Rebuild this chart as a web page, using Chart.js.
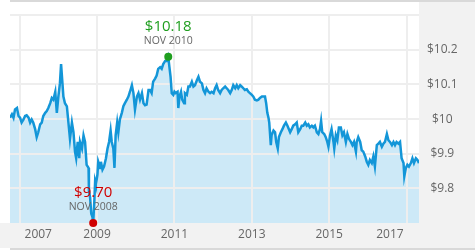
<!DOCTYPE html>
<html lang="en">
<head>
<meta charset="UTF-8">
<title>NAV history</title>
<script src="https://cdn.jsdelivr.net/npm/chart.js"></script>
<style>
  html, body { margin: 0; padding: 0; background: #fff; }
  canvas { display: block; }
</style>
</head>
<body>
<canvas id="navChart" width="475" height="250"></canvas>
<script>
// price history (decimal years / NAV in $)
const dates = [
  2006.75, 2006.80, 2006.84, 2006.88, 2006.93, 2006.97, 2007.01, 2007.05, 2007.10, 2007.14,
  2007.18, 2007.23, 2007.27, 2007.31, 2007.35, 2007.40, 2007.44, 2007.48, 2007.53, 2007.57,
  2007.61, 2007.66, 2007.70, 2007.74, 2007.79, 2007.83, 2007.87, 2007.92, 2007.96, 2008.00,
  2008.04, 2008.07, 2008.10, 2008.13, 2008.17, 2008.22, 2008.26, 2008.30, 2008.35, 2008.39,
  2008.43, 2008.46, 2008.50, 2008.54, 2008.56, 2008.61, 2008.65, 2008.69, 2008.73, 2008.78,
  2008.79, 2008.82, 2008.85, 2008.88, 2008.90, 2008.93, 2008.95, 2008.97, 2009.01, 2009.03,
  2009.08, 2009.10, 2009.14, 2009.18, 2009.23, 2009.27, 2009.31, 2009.35, 2009.38, 2009.42,
  2009.45, 2009.48, 2009.52, 2009.55, 2009.59, 2009.64, 2009.68, 2009.72, 2009.77, 2009.81,
  2009.85, 2009.90, 2009.94, 2009.98, 2010.03, 2010.07, 2010.11, 2010.16, 2010.20, 2010.24,
  2010.28, 2010.33, 2010.37, 2010.41, 2010.45, 2010.50, 2010.54, 2010.58, 2010.63, 2010.67,
  2010.71, 2010.76, 2010.80, 2010.84, 2010.87, 2010.90, 2010.93, 2010.97, 2011.00, 2011.03,
  2011.08, 2011.10, 2011.13, 2011.17, 2011.20, 2011.25, 2011.27, 2011.32, 2011.36, 2011.40,
  2011.45, 2011.49, 2011.53, 2011.58, 2011.62, 2011.66, 2011.71, 2011.75, 2011.79, 2011.83,
  2011.88, 2011.92, 2011.96, 2012.01, 2012.05, 2012.09, 2012.13, 2012.18, 2012.22, 2012.26,
  2012.31, 2012.35, 2012.39, 2012.44, 2012.48, 2012.52, 2012.57, 2012.61, 2012.65, 2012.70,
  2012.74, 2012.78, 2012.82, 2012.87, 2012.91, 2012.95, 2013.00, 2013.04, 2013.08, 2013.13,
  2013.17, 2013.21, 2013.26, 2013.30, 2013.34, 2013.37, 2013.40, 2013.43, 2013.45, 2013.49,
  2013.51, 2013.56, 2013.60, 2013.63, 2013.67, 2013.70, 2013.75, 2013.79, 2013.83, 2013.88,
  2013.92, 2013.99, 2014.03, 2014.07, 2014.12, 2014.16, 2014.20, 2014.25, 2014.29, 2014.33,
  2014.38, 2014.42, 2014.46, 2014.50, 2014.55, 2014.59, 2014.63, 2014.68, 2014.72, 2014.76,
  2014.79, 2014.82, 2014.87, 2014.91, 2014.95, 2014.98, 2015.02, 2015.06, 2015.11, 2015.13,
  2015.17, 2015.21, 2015.25, 2015.30, 2015.34, 2015.38, 2015.43, 2015.47, 2015.51, 2015.56,
  2015.60, 2015.64, 2015.69, 2015.71, 2015.75, 2015.80, 2015.84, 2015.88, 2015.93, 2015.97,
  2016.01, 2016.05, 2016.10, 2016.14, 2016.18, 2016.23, 2016.27, 2016.31, 2016.36, 2016.40,
  2016.44, 2016.49, 2016.53, 2016.57, 2016.62, 2016.66, 2016.70, 2016.74, 2016.79, 2016.83,
  2016.87, 2016.92, 2016.94, 2016.98, 2017.02, 2017.06, 2017.11, 2017.15, 2017.19, 2017.24,
  2017.28, 2017.32
];
const navs = [
  10.004, 10.014, 10.004, 10.028, 10.032, 10.009, 10.004, 9.990, 9.999, 10.009,
  10.011, 10.004, 9.990, 9.999, 9.990, 9.971, 9.948, 9.962, 9.985, 9.990,
  10.009, 10.018, 10.023, 10.032, 10.046, 10.061, 10.056, 10.079, 10.018, 10.065,
  10.103, 10.159, 10.112, 10.065, 10.046, 10.037, 9.990, 9.943, 9.990, 9.962,
  9.906, 9.887, 9.934, 9.887, 9.934, 9.915, 9.953, 9.934, 9.868, 9.859,
  9.793, 9.774, 9.727, 9.718, 9.700, 9.765, 9.821, 9.812, 9.840, 9.877,
  9.859, 9.877, 9.854, 9.863, 9.887, 9.915, 9.934, 9.967, 9.934, 9.915,
  9.859, 9.953, 9.990, 9.962, 9.999, 10.018, 10.037, 10.046, 10.056, 10.065,
  10.079, 10.098, 10.075, 10.028, 10.065, 10.075, 10.056, 10.075, 10.046, 10.040,
  10.042, 10.084, 10.084, 10.075, 10.108, 10.117, 10.126, 10.145, 10.150, 10.145,
  10.159, 10.168, 10.168, 10.180, 10.150, 10.122, 10.075, 10.070, 10.079, 10.075,
  10.079, 10.032, 10.065, 10.079, 10.056, 10.046, 10.075, 10.070, 10.094, 10.094,
  10.108, 10.094, 10.098, 10.112, 10.122, 10.108, 10.103, 10.084, 10.075, 10.089,
  10.079, 10.075, 10.079, 10.075, 10.089, 10.098, 10.084, 10.075, 10.084, 10.089,
  10.094, 10.089, 10.084, 10.075, 10.084, 10.098, 10.089, 10.098, 10.089, 10.098,
  10.094, 10.089, 10.084, 10.086, 10.079, 10.075, 10.070, 10.065, 10.056, 10.054,
  10.056, 10.061, 10.065, 10.065, 10.065, 10.046, 10.018, 10.004, 9.990, 9.925,
  9.953, 9.967, 9.962, 9.934, 9.915, 9.948, 9.962, 9.971, 9.981, 9.990,
  9.981, 9.962, 9.971, 9.981, 9.985, 9.990, 9.962, 9.971, 9.981, 9.981,
  9.990, 9.981, 9.985, 9.976, 9.981, 9.976, 9.981, 9.962, 9.957, 9.971,
  9.995, 9.962, 9.957, 9.948, 9.934, 9.920, 9.953, 9.971, 9.934, 9.915,
  9.953, 9.939, 9.976, 9.976, 9.953, 9.962, 9.934, 9.957, 9.943, 9.934,
  9.925, 9.934, 9.906, 9.934, 9.948, 9.934, 9.910, 9.906, 9.892, 9.877,
  9.868, 9.882, 9.873, 9.892, 9.863, 9.925, 9.929, 9.934, 9.920, 9.929,
  9.934, 9.957, 9.939, 9.934, 9.925, 9.934, 9.925, 9.934, 9.929, 9.934,
  9.887, 9.873, 9.835, 9.859, 9.868, 9.863, 9.873, 9.887, 9.873, 9.887,
  9.882, 9.873
];

const gridYears = [2007, 2009, 2011, 2013, 2015, 2017];
const yearLabelPos = [2007.48, 2009, 2011, 2013, 2015, 2016.57];
const yearLabels = ["2007", "2009", "2011", "2013", "2015", "2017"];
const priceTicks = [9.8, 9.9, 10, 10.1, 10.2, 10.3];
const monthNames = ["JAN", "FEB", "MAR", "APR", "MAY", "JUN", "JUL", "AUG", "SEP", "OCT", "NOV", "DEC"];

const X_MIN = 2006.75, X_MAX = 2017.32;
const Y_MIN = 9.70, Y_MAX = 10.30;

const FONT = '"Open Sans", "Noto Sans", sans-serif';

// highest / lowest point
const hi = navs.indexOf(Math.max(...navs));
const lo = navs.indexOf(Math.min(...navs));
const markers = [
    { i: hi, color: "#1f9e1f" },
    { i: lo, color: "#d00000" }
];

function monthLabel(d) {
    const year = Math.floor(d);
    const m = Math.min(11, Math.floor((d - year) * 12 + 1e-6));
    return monthNames[m] + " " + year;
}

const points = dates.map((d, i) => ({ x: d, y: navs[i] }));

// panels behind the plot
const panels = {
    id: "panels",
    beforeDraw(chart) {
        const ctx = chart.ctx, a = chart.chartArea, w = chart.width, h = chart.height;
        ctx.save();
        ctx.fillStyle = "#ffffff";
        ctx.fillRect(0, 0, w, h);
        ctx.fillStyle = "#f2f2f2";
        ctx.fillRect(a.right, 2, w - a.right, h - 4);
        ctx.fillRect(0, a.bottom, w, h - 2 - a.bottom);
        ctx.fillStyle = "#d9d9d9";
        ctx.fillRect(a.left, 0, w - a.left, 2);
        ctx.fillRect(a.left, h - 2, w - a.left, 2);
        ctx.restore();
    }
};

// grid goes over the area fill but under the line
const gridOverFill = {
    id: "gridOverFill",
    afterDatasetDraw(chart, args) {
        if (args.index === 0) {
            chart.scales.x.drawGrid(chart.chartArea);
            chart.scales.y.drawGrid(chart.chartArea);
        }
    }
};

// high / low captions
const captions = {
    id: "captions",
    afterDraw(chart) {
        const ctx = chart.ctx, xs = chart.scales.x, ys = chart.scales.y;
        ctx.save();
        ctx.textAlign = "center";
        ctx.textBaseline = "middle";
        markers.forEach(m => {
            const px = xs.getPixelForValue(dates[m.i]);
            const py = ys.getPixelForValue(navs[m.i]);
            ctx.font = "15px " + FONT;
            ctx.fillStyle = m.color;
            ctx.fillText("$" + navs[m.i].toFixed(2), px, py - 30);
            ctx.font = "10.5px " + FONT;
            ctx.fillStyle = "#666666";
            ctx.fillText(monthLabel(dates[m.i]), px, py - 16);
        });
        ctx.restore();
    }
};

new Chart(document.getElementById("navChart"), {
    type: "line",
    data: {
        datasets: [
            {
                label: "fill",
                data: points,
                order: 3,
                borderWidth: 0,
                backgroundColor: "#cde9f7",
                fill: "start",
                pointRadius: 0,
                tension: 0
            },
            {
                label: "NAV",
                data: points,
                order: 2,
                borderColor: "#1396d8",
                borderWidth: 2.5,
                fill: false,
                pointRadius: 0,
                tension: 0
            },
            {
                label: "markers",
                type: "scatter",
                data: markers.map(m => ({ x: dates[m.i], y: navs[m.i] })),
                order: 1,
                clip: false,
                pointRadius: 4,
                pointBorderWidth: 0,
                pointBackgroundColor: markers.map(m => m.color)
            }
        ]
    },
    options: {
        responsive: false,
        animation: false,
        layout: { padding: { left: 10, top: 10, right: 0, bottom: 0 } },
        plugins: {
            legend: { display: false },
            tooltip: { enabled: false }
        },
        scales: {
            x: {
                type: "linear",
                position: "bottom",
                min: X_MIN,
                max: X_MAX,
                afterBuildTicks: s => { s.ticks = gridYears.map(v => ({ value: v })); },
                afterFit: s => { s.height = 0; },
                ticks: { display: false },
                grid: { color: "#eeeeee", lineWidth: 2, drawTicks: false },
                border: { display: false }
            },
            x2: {
                type: "linear",
                position: "bottom",
                min: X_MIN,
                max: X_MAX,
                afterBuildTicks: s => { s.ticks = yearLabelPos.map(v => ({ value: v })); },
                afterFit: s => { s.height = 27; },
                ticks: {
                    autoSkip: false,
                    maxRotation: 0,
                    padding: 4,
                    color: "#666666",
                    font: { family: FONT, size: 12 },
                    callback: (v, i) => yearLabels[i]
                },
                grid: { display: false, drawTicks: false },
                border: { display: false }
            },
            y: {
                position: "right",
                min: Y_MIN,
                max: Y_MAX,
                afterBuildTicks: s => { s.ticks = priceTicks.map(v => ({ value: v })); },
                afterFit: s => { s.width = 56; },
                ticks: {
                    padding: 8,
                    crossAlign: "center",
                    color: "#666666",
                    font: { family: FONT, size: 12 },
                    callback: v => (v === 10.3 ? "" : "$" + (+v.toFixed(1)))
                },
                grid: { color: "#eeeeee", lineWidth: 2, drawTicks: false },
                border: { display: false }
            }
        }
    },
    plugins: [panels, gridOverFill, captions]
});
</script>
</body>
</html>
